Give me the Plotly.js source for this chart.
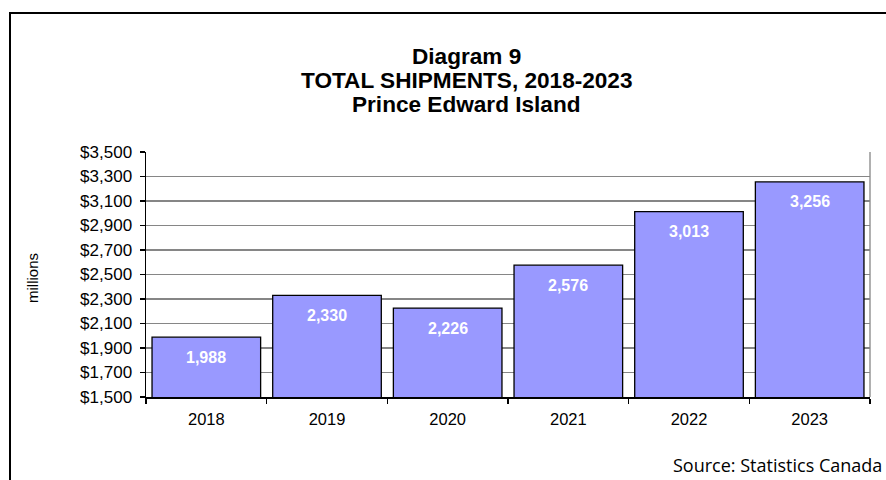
<!DOCTYPE html>
<html>
<head>
<meta charset="utf-8">
<script src="https://cdn.plot.ly/plotly-3.0.1.min.js"></script>
<style>
  html, body { margin: 0; padding: 0; background: #fff; overflow: hidden; }
  #wrap { position: relative; width: 886px; height: 480px; }
  #chart { width: 886px; height: 480px; }
  #frame { position: absolute; left: 9px; top: 12px; width: 960px; height: 560px;
           border: 2px solid #000; pointer-events: none; }
</style>
</head>
<body>
<div id="wrap">
  <div id="chart"></div>
  <div id="frame"></div>
</div>
<script>
const years = ['2018', '2019', '2020', '2021', '2022', '2023'];
const shipments = [1988, 2330, 2226, 2576, 3013, 3256];
const yTickVals = [1500, 1700, 1900, 2100, 2300, 2500, 2700, 2900, 3100, 3300, 3500];
const yTickText = ['$1,500', '$1,700', '$1,900', '$2,100', '$2,300', '$2,500', '$2,700', '$2,900', '$3,100', '$3,300', '$3,500'];
const titleLines = ['Diagram 9', 'TOTAL SHIPMENTS, 2018-2023', 'Prince Edward Island'];
const yLabel = 'millions';
const sourceNote = 'Source: Statistics Canada';

const FONT = 'Liberation Sans, Arial, sans-serif';

const trace = {
  type: 'bar',
  x: years,
  y: shipments,
  marker: { color: '#9999FF', line: { color: '#000000', width: 1.3 } },
  hoverinfo: 'skip'
};

const valueLabels = years.map((yr, i) => ({
  x: i, y: shipments[i], xref: 'x', yref: 'y',
  text: '<b>' + shipments[i].toLocaleString('en-US') + '</b>',
  showarrow: false, yanchor: 'middle', yshift: -20,
  font: { family: FONT, size: 16, color: '#FFFFFF' }
}));

const titleY = [1.39, 1.292, 1.195];
const titleAnnots = titleLines.map((t, i) => ({
  text: '<b>' + t + '</b>', xref: 'paper', yref: 'paper',
  x: 0.4427, y: titleY[i], xanchor: 'center', yanchor: 'middle', showarrow: false,
  font: { family: FONT, size: 22.6, color: '#000' }
}));

const layout = {
  width: 886, height: 480,
  margin: { l: 146, r: 16, t: 152, b: 83 },
  paper_bgcolor: '#ffffff', plot_bgcolor: '#ffffff',
  showlegend: false,
  bargap: 0.1,
  font: { family: FONT, size: 16, color: '#000' },
  xaxis: {
    type: 'category',
    categoryorder: 'array', categoryarray: years,
    range: [-0.5, years.length - 0.5],
    showline: true, linecolor: '#000', linewidth: 1.5,
    ticks: 'outside', tickson: 'boundaries', ticklen: 5, tickcolor: '#000', tickwidth: 1.5,
    ticklabelstandoff: 7,
    tickfont: { family: FONT, size: 16.5, color: '#000' },
    showgrid: false, zeroline: false, fixedrange: true
  },
  yaxis: {
    range: [1500, 3500],
    tickvals: yTickVals, ticktext: yTickText,
    showline: true, linecolor: '#000', linewidth: 1.5,
    ticks: 'outside', ticklen: 5, tickcolor: '#000', tickwidth: 1.5,
    ticklabelstandoff: 4,
    tickfont: { family: FONT, size: 17, color: '#000' },
    showgrid: true, gridcolor: '#868686', gridwidth: 1.3,
    zeroline: false, fixedrange: true
  },
  shapes: [
    { type: 'line', xref: 'paper', yref: 'paper', x0: 1, x1: 1, y0: 0, y1: 1,
      line: { color: '#868686', width: 1.3 } }
  ],
  annotations: valueLabels.concat(titleAnnots, [
    { text: yLabel, xref: 'paper', yref: 'paper', x: -0.156, y: 0.486,
      textangle: -90, showarrow: false, xanchor: 'center', yanchor: 'middle',
      font: { family: FONT, size: 15, color: '#000' } },
    { text: sourceNote, xref: 'paper', yref: 'paper', x: 1.0194, y: -0.334,
      showarrow: false, xanchor: 'right', yanchor: 'bottom',
      font: { family: 'Open Sans, Lato, sans-serif', size: 18, color: '#000' } }
  ])
};

Plotly.newPlot('chart', [trace], layout, { displayModeBar: false, staticPlot: true });
</script>
</body>
</html>
